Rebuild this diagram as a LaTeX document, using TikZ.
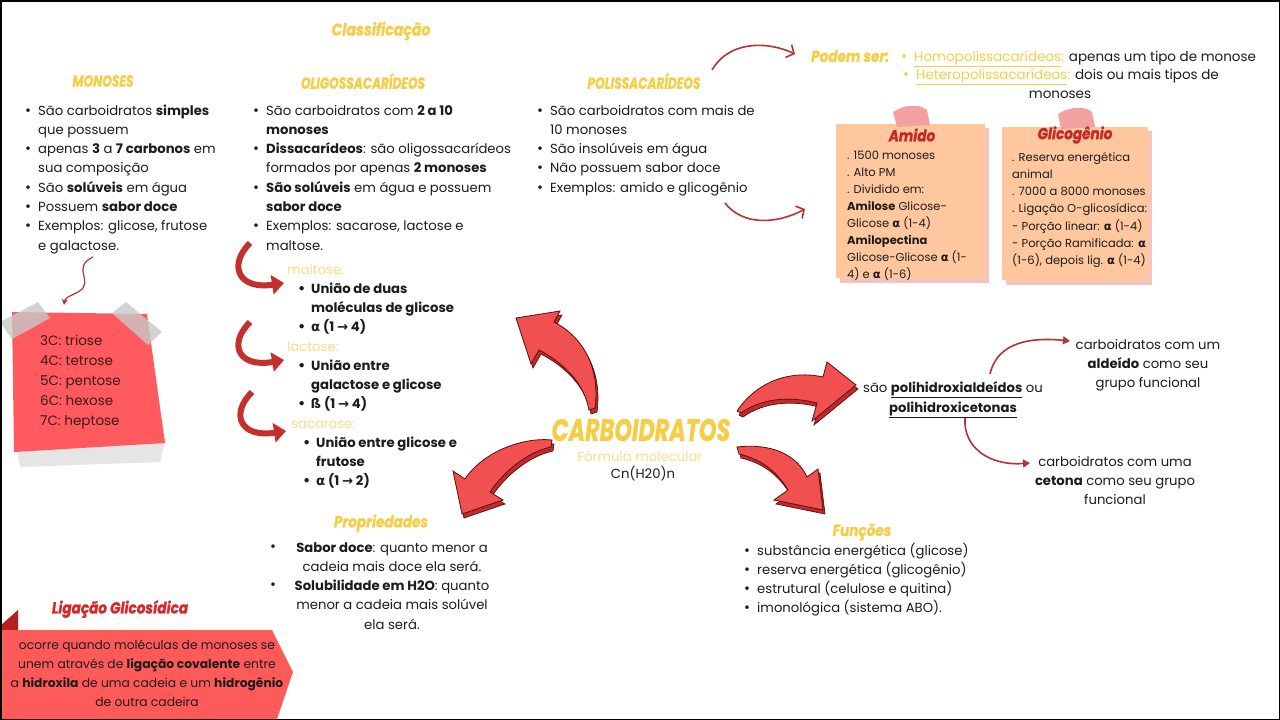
\documentclass[tikz,border=0pt]{standalone}
\usepackage{fontspec}
\usepackage{graphicx}
\setmainfont{Poppins}
\newfontfamily\sym{DejaVu Sans}
\newfontfamily\ttlfont{Poppins}[FakeBold=1.2]
\usetikzlibrary{arrows.meta}
\definecolor{txt}{HTML}{1C1C1C}
\definecolor{ylw}{HTML}{F5CE47}
\definecolor{ylwpale}{HTML}{F2DF85}
\definecolor{stk}{HTML}{FF5A5F}
\definecolor{arrred}{HTML}{F0504F}
\definecolor{arrdark}{HTML}{C22A2A}
\definecolor{arrline}{HTML}{5A0E0E}
\definecolor{curvred}{HTML}{C3302E}
\definecolor{thinred}{HTML}{B83232}
\definecolor{peach}{HTML}{FFC79E}
\definecolor{peachsh}{HTML}{F7C3BF}
\definecolor{pinktape}{HTML}{F2A0A0}
\definecolor{amred}{HTML}{C52828}
\definecolor{ligtitle}{HTML}{D8262A}
\definecolor{ligred}{HTML}{FF5A5A}
\definecolor{ligflag}{HTML}{B52121}
\definecolor{tapegray}{HTML}{C8C8C8}
\newcommand{\bi}{\makebox[13pt][l]{\raisebox{0ex}{\scalebox{1.1}{\textbullet}}}}
\newcommand{\ci}{\hspace*{13pt}}
\newcommand{\al}{{\sym\bfseries α}}
\newcommand{\ra}{{\sym →}}
\newcommand{\ttl}[3][0.85]{\scalebox{#1}[1]{\fontsize{#2}{#2}\selectfont\ttlfont\bfseries\itshape #3}}
\newcommand{\bigarrow}[1]{\filldraw[fill=arrdark, draw=arrline, line width=0.7pt, shift={(2,4)}] #1; \filldraw[fill=arrred, draw=arrline, line width=0.8pt] #1;}
\tikzset{
  body/.style={font=\fontsize{13.2}{19.3}\selectfont, text=txt, inner sep=0pt, align=left, anchor=base west},
  boldbody/.style={body, font=\fontsize{13.2}{19.3}\selectfont\bfseries},
  ctext/.style={font=\fontsize{13.2}{19.3}\selectfont, text=txt, inner sep=0pt, align=center, anchor=base},
  boxtext/.style={body, font=\fontsize{11.5}{17}\selectfont},
  title/.style={text=ylw, inner sep=0pt, anchor=center},
  curvarr/.style={draw=curvred, line width=6pt, -{Triangle[width=19pt,length=12pt]}},
  thinarr/.style={draw=thinred, line width=1.6pt},
}
\begin{document}
\begin{tikzpicture}[x=1pt,y=-1pt]
\useasboundingbox (0,0) rectangle (1280,720);
\fill[white] (0,0) rectangle (1280,720);

% ---------- sticky note ----------
\fill[gray!20] (16,445) -- (166,438) -- (160,462) -- (20,467) -- cycle;
\fill[stk] (12,312) -- (147,314) -- (165,443) -- (14,452) -- cycle;
\fill[tapegray, opacity=0.8] (0,322) -- (38,302) -- (50,318) -- (12,339) -- cycle;
\fill[tapegray, opacity=0.8] (112,313) -- (126,302) -- (162,332) -- (148,345) -- cycle;

% ---------- orange boxes ----------
\fill[peachsh] (840,128) rectangle (989,283);
\fill[peach] (836,124) rectangle (985,278);
\fill[pinktape] (893,112) .. controls (905,104) and (920,104) .. (927,110) -- (930,125) -- (897,127) -- cycle;
\fill[peachsh] (1006,131) rectangle (1152,285);
\fill[peach] (1002,127) rectangle (1148,280);
\fill[pinktape] (1058,114) .. controls (1070,106) and (1085,106) .. (1092,112) -- (1095,127) -- (1061,129) -- cycle;

% ---------- ligacao shape ----------
\fill[ligflag] (0,626) -- (18,610) -- (18,632) -- (0,632) -- cycle;
\fill[ligred] (0,630) -- (272,630) -- (293,672) -- (277,719) -- (0,719) -- cycle;

% ---------- border ----------
\draw[black, line width=1.5pt] (0.75,0.75) rectangle (1279.25,719.25);

% ---------- big 3D arrows ----------
\bigarrow{(595,408) .. controls (600,370) and (585,338) .. (554,322) -- (560,311) -- (516,318) -- (531,364) -- (539,350) .. controls (562,362) and (584,382) .. (589,410) -- cycle}
\bigarrow{(552,440) .. controls (522,437) and (483,452) .. (465,479) -- (453,471) -- (462,514) -- (503,500) -- (490,492) .. controls (505,470) and (528,452) .. (551,447) -- cycle}
\bigarrow{(737,411) .. controls (758,380) and (792,370) .. (823,377) -- (827,362) -- (856,385) -- (812,421) -- (817,403) .. controls (790,396) and (762,398) .. (741,413) -- cycle}
\bigarrow{(737,447) .. controls (772,443) and (797,455) .. (807,477) -- (818,469) -- (823,510) -- (774,500) -- (788,490) .. controls (776,470) and (760,459) .. (739,454) -- cycle}

% ---------- titles ----------
\node[title] (classif) at (381,31) {\ttl[0.83]{17}{Classificação}};
\node[title] (tmon) at (103,81) {\ttl[0.76]{16}{MONOSES}};
\node[title] (tolig) at (363,81) {\ttl[0.76]{16}{OLIGOSSACARÍDEOS}};
\node[title] (tpoli) at (644,81) {\ttl[0.76]{16}{POLISSACARÍDEOS}};
\node[title, anchor=west] (podem) at (811,56) {\ttl{16}{Podem ser:}};
\node[title] (tprop) at (381,523) {\ttl{16}{Propriedades}};
\node[title] (tfunc) at (862,532) {\ttl{16}{Funções}};
\node[title, text=amred] (tamido) at (912,135) {\ttl{16}{Amido}};
\node[title, text=amred] (tglic) at (1075,135) {\ttl{16}{Glicogênio}};
\node[title, text=ligtitle] (tlig) at (120,609) {\ttl{16}{Ligação Glicosídica}};
\node[title] (carb) at (641,430) {\ttl[0.72]{31}{CARBOIDRATOS}};
\node[ctext, text=ylwpale, anchor=center] (formula) at (640,456) {Fórmula molecular};
\node[ctext, anchor=center] (cn) at (643,474) {Cn(H20)n};

% ---------- lists (base anchor = last line baseline) ----------
\node[body] (mon) at (25,250.1) {\bi São carboidratos \textbf{simples}\\
\ci que possuem\\
\bi apenas \textbf{3} a \textbf{7 carbonos} em\\
\ci sua composição\\
\bi São \textbf{solúveis} em água\\
\bi Possuem \textbf{sabor doce}\\
\bi Exemplos: glicose, frutose\\
\ci e galactose.};

\node[body] (olig) at (253,250.1) {\bi São carboidratos com \textbf{2 a 10}\\
\ci \textbf{monoses}\\
\bi \textbf{Dissacarídeos}: são oligossacarídeos\\
\ci formados por apenas \textbf{2 monoses}\\
\bi \textbf{São solúveis} em água e possuem\\
\ci \textbf{sabor doce}\\
\bi Exemplos: sacarose, lactose e\\
\ci maltose.};

\node[body] (poli) at (537,192.2) {\bi São carboidratos com mais de\\
\ci 10 monoses\\
\bi São insolúveis em água\\
\bi Não possuem sabor doce\\
\bi Exemplos: amido e glicogênio};

\node[body, font=\fontsize{13.5}{20}\selectfont, text=txt!85!red] (stick) at (40,425) {3C: triose\\4C: tetrose\\5C: pentose\\6C: hexose\\7C: heptose};

% ---------- dissacarideos ----------
\node[body, text=ylwpale] (lmal) at (287,274) {maltose:};
\node[boldbody] (bmal) at (298,331.6) {\bi União de duas\\ \ci moléculas de glicose\\ \bi \al{} (1 \ra{} 4)};
\node[body, text=ylwpale] (llac) at (287,351) {lactose:};
\node[boldbody] (blac) at (298,408.6) {\bi União entre\\ \ci galactose e glicose\\ \bi ß (1 \ra{} 4)};
\node[body, text=ylwpale] (lsac) at (291,428) {sacarose:};
\node[boldbody] (bsac) at (303,485.6) {\bi União entre glicose e\\ \ci frutose\\ \bi \al{} (1 \ra{} 2)};

\draw[curvarr] (250,243) .. controls (228,265) and (238,290) .. (284,283);
\draw[curvarr] (250,322) .. controls (228,344) and (238,368) .. (284,360);
\draw[curvarr] (252,392) .. controls (230,414) and (240,438) .. (286,431);

% ---------- polissacarideos detail ----------
\node[body, font=\fontsize{13.5}{19.3}\selectfont] (hom) at (901,61) {{\color{ylw}\bi\underline{Homopolissacarídeos}:} apenas um tipo de monose};
\node[body, font=\fontsize{13.5}{19.3}\selectfont] (het) at (903,79) {{\color{ylw}\bi\underline{Heteropolissacarídeos}:} dois ou mais tipos de};
\node[ctext, font=\fontsize{13.5}{19.3}\selectfont] (mono2) at (1060,98) {monoses};

\node[boxtext] (amidotxt) at (847,278) {. 1500 monoses\\
. Alto PM\\
. Dividido em:\\
\textbf{Amilose} Glicose-\\
Glicose \al{} (1-4)\\
\textbf{Amilopectina}\\
Glicose-Glicose \al{} (1-\\
4) e \al{} (1-6)};

\node[boxtext, font=\fontsize{11.5}{17.3}\selectfont] (glictxt) at (1012,264.8) {. Reserva energética\\
animal\\
. 7000 a 8000 monoses\\
. Ligação O-glicosídica:\\
- Porção linear: \al{} (1-4)\\
- Porção Ramificada: \al\\
(1-6), depois lig. \al{} (1-4)};

% ---------- right side ----------
\node[ctext, font=\fontsize{13.2}{20}\selectfont] (polih) at (953,412) {são \textbf{\underline{polihidroxialdeídos}} ou\\ \textbf{\underline{polihidroxicetonas}}};
\node[ctext] (ald) at (1148,387.6) {carboidratos com um\\ \textbf{aldeído} como seu\\ grupo funcional};
\node[ctext] (cet) at (1115,504.6) {carboidratos com uma\\ \textbf{cetona} como seu grupo\\ funcional};

% ---------- propriedades ----------
\node[ctext] (prop) at (392,629.2) {\textbf{Sabor doce}: quanto menor a\\ cadeia mais doce ela será.\\ \textbf{Solubilidade em H2O}: quanto\\ menor a cadeia mais solúvel\\ ela será.};
\node[ctext, anchor=center] (pb1) at (273,548) {\scalebox{1.1}{\textbullet}};
\node[ctext, anchor=center] (pb2) at (273,586) {\scalebox{1.1}{\textbullet}};

% ---------- funcoes ----------
\node[body] (func) at (744,612.9) {\bi substância energética (glicose)\\
\bi reserva energética (glicogênio)\\
\bi estrutural (celulose e quitina)\\
\bi imonológica (sistema ABO).};

% ---------- ligacao text ----------
\node[ctext, font=\fontsize{12.3}{19}\selectfont] (ligtxt) at (147,706) {ocorre quando moléculas de monoses se\\ unem através de \textbf{ligação covalente} entre\\ a \textbf{hidroxila} de uma cadeia e um \textbf{hidrogênio}\\ de outra cadeira};

% ---------- thin connectors ----------
\coordinate (sqa) at (93,257);
\coordinate (sqb) at (64,305);
\draw[thinarr, line width=1.2pt, -{Stealth[length=6pt,width=6pt]}] (sqa) .. controls (70,268) and (96,282) .. (78,292) .. controls (68,297) and (65,298) .. (sqb);
\coordinate (ppa) at (712,70);
\coordinate (ppb) at (795,54);
\draw[thinarr, -{Straight Barb[length=6pt,width=14pt]}] (ppa) .. controls (728,42) and (765,40) .. (ppb);
\coordinate (pxa) at (725,203);
\coordinate (pxb) at (805,209);
\draw[thinarr, -{Straight Barb[length=6pt,width=14pt]}] (pxa) .. controls (742,225) and (775,225) .. (pxb);
\coordinate (haa) at (990,374);
\coordinate (hab) at (1070,341);
\draw[thinarr, -{Triangle[length=7pt,width=8pt]}] (haa) .. controls (996,348) and (1020,336) .. (hab);
\coordinate (hca) at (965,418);
\coordinate (hcb) at (1030,463);
\draw[thinarr, -{Triangle[length=7pt,width=8pt]}] (hca) .. controls (963,448) and (990,466) .. (hcb);
\end{tikzpicture}
\end{document}
